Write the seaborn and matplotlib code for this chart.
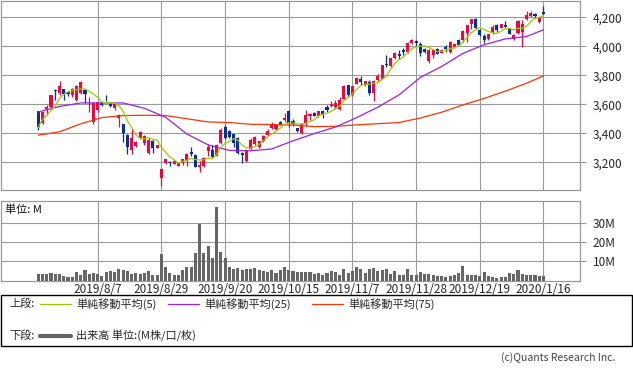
import numpy as np
import pandas as pd
import matplotlib
matplotlib.use("Agg")
import matplotlib.pyplot as plt
from matplotlib.patches import Rectangle
from matplotlib.lines import Line2D
import seaborn as sns

# ---------------- data ----------------
opens = [3552, 3472, 3566, 3582, 3701, 3680, 3703, 3682, 3666, 3632,
         3678, 3696, 3585, 3479, 3559, 3609, 3645, 3600, 3577, 3502,
         3463, 3387, 3288, 3311, 3364, 3330, 3261, 3348, 3300, 3089,
         3192, 3204, 3188, 3176, 3192, 3208, 3268, 3250, 3169, 3176,
         3279, 3288, 3243, 3330, 3444, 3414, 3392, 3369, 3265, 3211,
         3295, 3325, 3307, 3346, 3387, 3433, 3428, 3479, 3490, 3552,
         3483, 3433, 3403, 3472, 3520, 3543, 3520, 3552, 3582, 3586,
         3582, 3570, 3639, 3731, 3662, 3742, 3776, 3731, 3754, 3678,
         3765, 3776, 3880, 3863, 3921, 3944, 3971, 3960, 4022, 4033,
         4017, 3983, 3895, 3937, 3983, 3955, 3994, 3960, 3994, 4044,
         4040, 4090, 4150, 4189, 4115, 4070, 4047, 4097, 4143, 4127,
         4143, 4120, 4047, 4090, 4097, 4189, 4205, 4219, 4166, 4239]
highs = [3552, 3550, 3593, 3666, 3708, 3758, 3708, 3692, 3715, 3731,
         3758, 3708, 3650, 3616, 3623, 3616, 3666, 3616, 3609, 3536,
         3463, 3398, 3433, 3346, 3415, 3387, 3364, 3357, 3320, 3158,
         3222, 3210, 3215, 3194, 3222, 3261, 3307, 3256, 3210, 3233,
         3323, 3318, 3323, 3437, 3460, 3420, 3398, 3375, 3272, 3290,
         3369, 3382, 3350, 3387, 3426, 3479, 3460, 3484, 3540, 3559,
         3499, 3437, 3474, 3559, 3540, 3547, 3556, 3559, 3593, 3623,
         3628, 3650, 3731, 3735, 3728, 3788, 3792, 3762, 3765, 3765,
         3806, 3873, 3937, 3921, 3960, 3971, 3987, 4028, 4051, 4044,
         4028, 3987, 3983, 3973, 3987, 3980, 4006, 4035, 4022, 4047,
         4109, 4143, 4189, 4192, 4120, 4086, 4084, 4143, 4150, 4155,
         4173, 4125, 4081, 4182, 4182, 4246, 4246, 4228, 4200, 4274]
lows = [3421, 3465, 3524, 3577, 3628, 3662, 3628, 3657, 3650, 3621,
        3673, 3611, 3547, 3463, 3547, 3586, 3623, 3582, 3563, 3444,
        3341, 3256, 3256, 3307, 3360, 3318, 3256, 3265, 3298, 3039,
        3185, 3174, 3185, 3174, 3181, 3176, 3243, 3169, 3135, 3169,
        3245, 3238, 3240, 3325, 3360, 3365, 3307, 3256, 3197, 3205,
        3288, 3320, 3300, 3340, 3385, 3426, 3424, 3460, 3479, 3444,
        3449, 3410, 3398, 3449, 3490, 3517, 3515, 3502, 3547, 3582,
        3570, 3563, 3632, 3658, 3658, 3738, 3731, 3728, 3662, 3623,
        3760, 3772, 3857, 3857, 3914, 3914, 3937, 3953, 4013, 3999,
        3930, 3955, 3884, 3921, 3944, 3950, 3960, 3953, 3990, 4006,
        4028, 4028, 4120, 4122, 4070, 4024, 4044, 4086, 4097, 4125,
        4130, 4081, 4044, 4086, 3994, 4182, 4200, 4196, 4159, 4212]
closes = [3444, 3547, 3582, 3662, 3692, 3728, 3673, 3669, 3708, 3724,
          3754, 3673, 3590, 3609, 3616, 3593, 3640, 3591, 3600, 3524,
          3405, 3307, 3364, 3341, 3410, 3380, 3357, 3300, 3318, 3151,
          3220, 3192, 3210, 3192, 3220, 3254, 3256, 3169, 3181, 3227,
          3307, 3238, 3318, 3421, 3369, 3371, 3334, 3265, 3250, 3284,
          3357, 3375, 3346, 3382, 3414, 3463, 3456, 3463, 3502, 3474,
          3467, 3414, 3463, 3529, 3536, 3520, 3552, 3524, 3559, 3605,
          3609, 3632, 3724, 3662, 3724, 3781, 3754, 3758, 3678, 3760,
          3792, 3868, 3868, 3918, 3953, 3930, 3960, 4024, 4044, 4022,
          3955, 3960, 3976, 3971, 3948, 3976, 3983, 4028, 4017, 4010,
          4104, 4143, 4189, 4127, 4074, 4040, 4081, 4132, 4113, 4150,
          4132, 4086, 4079, 4171, 4150, 4212, 4228, 4205, 4196, 4219]
volume_m = [3.4, 3.4, 3.4, 4.0, 3.4, 3.4, 2.6, 1.9, 1.9, 4.5,
            2.9, 5.5, 3.4, 3.8, 3.4, 2.4, 4.3, 5.0, 4.5, 5.9,
            5.5, 5.0, 3.6, 4.0, 3.4, 4.1, 5.0, 2.9, 2.9, 13.8,
            7.1, 4.1, 2.9, 2.9, 5.5, 7.1, 7.1, 14.5, 29.3, 14.5,
            17.9, 11.7, 38.1, 14.8, 11.7, 7.1, 6.2, 6.6, 5.5, 6.2,
            6.2, 6.6, 5.7, 5.2, 4.3, 5.7, 4.1, 5.7, 7.1, 5.5,
            5.2, 4.7, 4.5, 4.5, 4.3, 3.4, 3.8, 2.9, 4.0, 4.8,
            4.7, 3.1, 5.9, 4.1, 4.8, 7.1, 5.9, 4.0, 6.2, 6.4,
            5.0, 5.7, 5.9, 3.4, 4.8, 2.9, 2.9, 5.9, 2.9, 2.9,
            4.5, 3.4, 3.4, 2.8, 2.4, 2.2, 1.9, 2.4, 2.9, 4.0,
            7.6, 2.9, 2.9, 2.9, 2.4, 4.5, 2.4, 1.9, 1.4, 1.9,
            1.9, 4.0, 3.6, 5.5, 3.4, 3.1, 3.1, 2.8, 2.6, 2.4]

ma_idx = [0, 5, 10, 15, 20, 25, 30, 35, 40, 45, 50, 55, 60, 65, 70, 75,
          80, 85, 90, 95, 100, 105, 110, 115, 119]
sma25 = [3547, 3585, 3609, 3609, 3609, 3572, 3510, 3395, 3320, 3282, 3279,
         3292, 3348, 3398, 3443, 3508, 3580, 3665, 3785, 3860, 3950, 4010,
         4050, 4067, 4113]
sma75 = [3387, 3410, 3465, 3508, 3522, 3524, 3522, 3500, 3478, 3474, 3462,
         3460, 3456, 3446, 3448, 3458, 3466, 3474, 3505, 3545, 3595, 3640,
         3690, 3745, 3795]

tick_pos = [14, 29, 44, 59, 74, 89, 104, 119]
tick_labels = ["2019/8/7", "2019/8/29", "2019/9/20", "2019/10/15",
               "2019/11/7", "2019/11/28", "2019/12/19", "2020/1/16"]
price_ticks = [3200, 3400, 3600, 3800, 4000, 4200]
vol_ticks = [10, 20, 30]

# ---------------- style ----------------
sns.set_style("white")
plt.rcParams["font.family"] = ["Noto Sans CJK JP", "DejaVu Sans"]

UP = "#f0063c"
DOWN = "#0a2f94"
C5 = "#99cc00"
C25 = "#9a1ff0"
C75 = "#ff3300"
GRID = "#999999"

df = pd.DataFrame({"i": np.arange(len(closes)), "open": opens, "high": highs,
                   "low": lows, "close": closes, "vol": volume_m})
df["sma5"] = df["close"].rolling(5, min_periods=1).mean()
ma = pd.DataFrame({"i": ma_idx, "sma25": sma25, "sma75": sma75})

W, H = 633, 372
fig = plt.figure(figsize=(W / 100, H / 100), dpi=100)
ax = fig.add_axes([0.5 / W, 1 - 190 / H, 579.5 / W, 189.5 / H])
axv = fig.add_axes([0.5 / W, 1 - 280.6 / H, 579.5 / W, 79.6 / H])

for a in (ax, axv):
    for s in a.spines.values():
        s.set_color(GRID)
        s.set_linewidth(0.9)
    a.set_xlim(-8.9, 127.6)
    a.set_xticks(tick_pos)
    a.grid(True, color=GRID, linewidth=0.8)
    a.set_axisbelow(True)
    a.yaxis.tick_right()
    a.tick_params(axis="y", which="both", length=4, width=0.8, color=GRID,
                  labelsize=8.5, pad=5, right=True, left=False)
    a.tick_params(axis="x", length=0)

# ---- price panel ----
ax.set_ylim(3009, 4315)
ax.set_yticks(price_ticks)
ax.set_yticklabels([f"{v:,}" for v in price_ticks])
ax.set_xticklabels([])

up = df["close"] >= df["open"]
colors = np.where(up, UP, DOWN)
ax.vlines(df["i"], df["low"], df["high"], colors=colors, linewidth=0.9, zorder=3)
body_bottom = np.minimum(df["open"], df["close"])
body_h = np.maximum(np.abs(df["close"] - df["open"]), 5)
ax.bar(df["i"], body_h, bottom=body_bottom, width=0.72, color=colors,
       linewidth=0, zorder=4)

sns.lineplot(data=ma, x="i", y="sma75", ax=ax, color=C75, linewidth=0.9, zorder=5)
sns.lineplot(data=ma, x="i", y="sma25", ax=ax, color=C25, linewidth=0.9, zorder=5)
sns.lineplot(data=df, x="i", y="sma5", ax=ax, color=C5, linewidth=0.9, zorder=6)
ax.set_xlabel("")
ax.set_ylabel("")

# ---- volume panel ----
sns.barplot(data=df, x="i", y="vol", ax=axv, color="#666666", width=0.72,
            native_scale=True, saturation=1, linewidth=0, zorder=3)
axv.set_xlim(-8.9, 127.6)
axv.set_ylim(0, 41.2)
axv.set_yticks(vol_ticks)
axv.set_yticklabels([f"{v}M" for v in vol_ticks])
axv.set_xticks(tick_pos)
axv.set_xticklabels(tick_labels, fontsize=8.5)
axv.tick_params(axis="x", pad=2)
axv.set_xlabel("")
axv.set_ylabel("")
axv.text(5 / 580, 1 - 9 / 79.6, "単位: M", transform=axv.transAxes,
         fontsize=8, va="center", ha="left", color="#111111")

# ---- legend box ----
fig.patches.append(Rectangle((0.5 / W, 1 - 346 / H), 631.5 / W, 51 / H,
                             transform=fig.transFigure, fill=False,
                             edgecolor="black", linewidth=1.0))
def fy(y):
    return 1 - y / H
def fx(x):
    return x / W

y1, y2 = 304, 336
fig.text(fx(9), fy(y1), "上段:", fontsize=8, va="center", ha="left")
items = [(40, 71, 76, C5, "単純移動平均(5)"),
         (168, 199, 204, C25, "単純移動平均(25)"),
         (312, 343, 348, C75, "単純移動平均(75)")]
for x0, x1, xt, c, lab in items:
    fig.lines.append(Line2D([fx(x0), fx(x1)], [fy(y1), fy(y1)],
                            transform=fig.transFigure, color=c, linewidth=0.9))
    fig.text(fx(xt), fy(y1), lab, fontsize=8, va="center", ha="left")
fig.text(fx(9), fy(y2), "下段:", fontsize=8, va="center", ha="left")
fig.lines.append(Line2D([fx(40), fx(71)], [fy(y2), fy(y2)],
                        transform=fig.transFigure, color="#666666", linewidth=3.0))
fig.text(fx(76), fy(y2), "出来高 単位:(M株/口/枚)", fontsize=8, va="center", ha="left")

fig.text(fx(615), fy(358), "(c)Quants Research Inc.", fontsize=7.5,
         va="center", ha="right", color="#444444")

fig.savefig("out.png", dpi=100)
